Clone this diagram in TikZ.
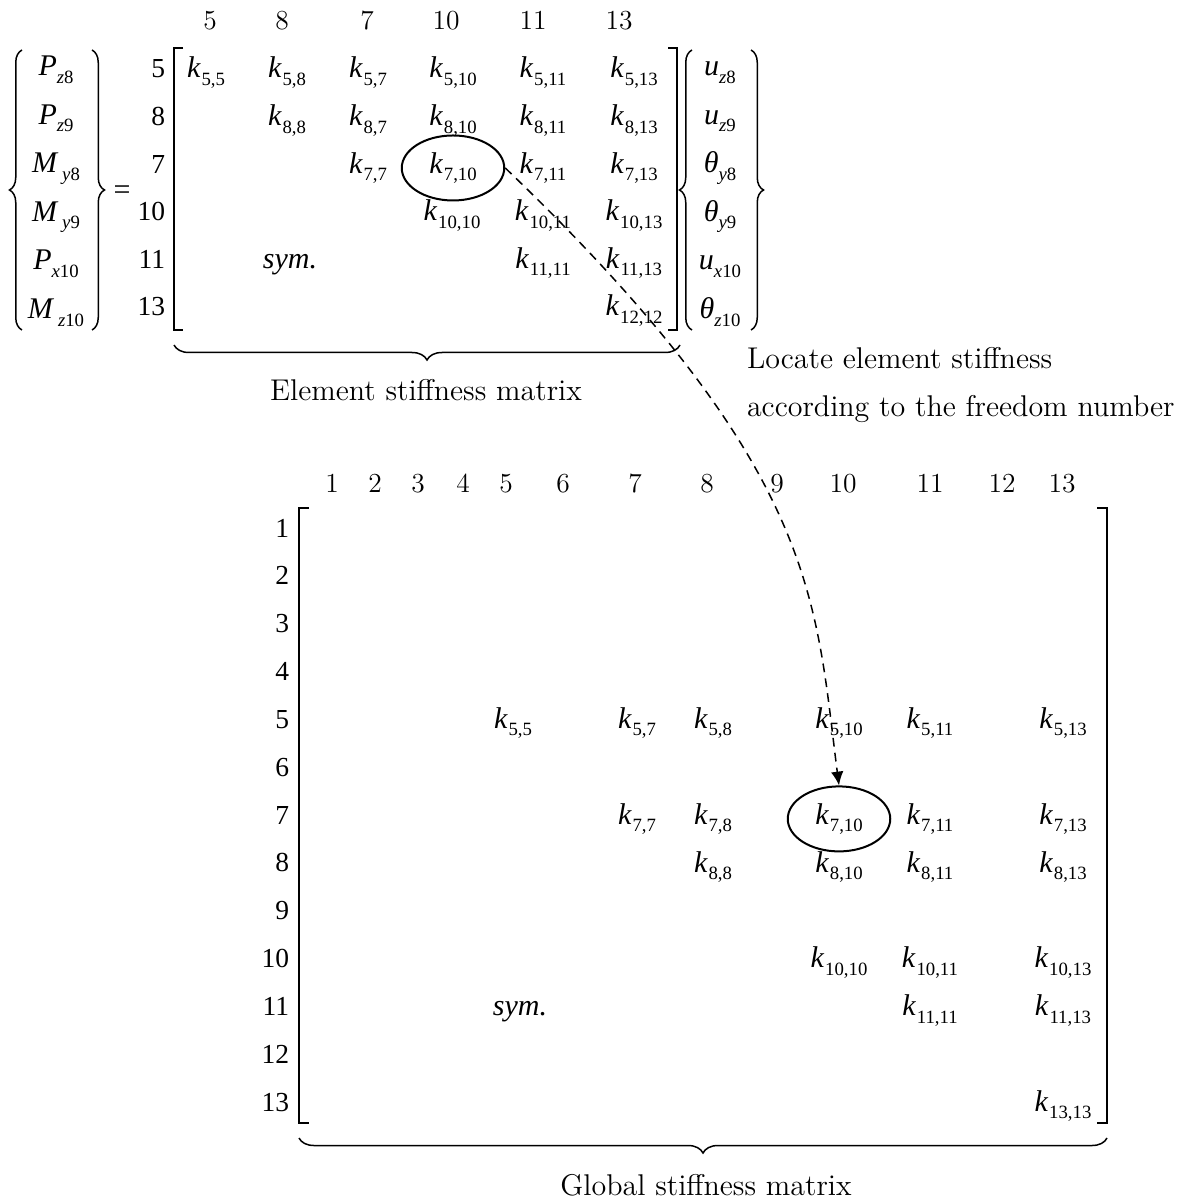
\documentclass[tikz,border=0pt]{standalone}
\usepackage{fontspec}
\usetikzlibrary{arrows.meta,shapes.geometric,decorations.pathreplacing}
\newfontfamily\tms{Liberation Serif}[ItalicFont={Liberation Serif Italic}, BoldFont={Liberation Serif Bold}]
\newcommand\kk[1]{{\tms\fontsize{12}{12}\selectfont\itshape k}\kern0.5pt\raisebox{-3pt}{\tms\fontsize{7.5}{8}\selectfont #1}}
\newcommand\vv[2]{{\tms\fontsize{12}{12}\selectfont\itshape #1}\raisebox{-3pt}{\tms\fontsize{7.5}{8}\selectfont #2}}
\tikzset{
  ent/.style={anchor=base, inner sep=0pt},
  rowno/.style={anchor=base east, inner sep=0pt, font=\tms\fontsize{11}{12}\selectfont},
  colno/.style={anchor=base, inner sep=0pt, font=\fontsize{11}{12}\selectfont},
  caption/.style={inner sep=0pt, font=\fontsize{12}{14}\selectfont},
  circled/.style={ellipse, draw, line width=0.8pt, minimum width=41pt, minimum height=26pt, inner sep=0pt, anchor=base},
  curly/.style={decorate, decoration={brace, amplitude=#1}, line width=0.6pt},
  curly/.default=5pt,
  link/.style={dash pattern=on 3.5pt off 2.5pt, line width=0.6pt, -{Latex[length=5.5pt,width=5pt]}},
}
\begin{document}
\begin{tikzpicture}[x=0.4pt, y=-0.4pt, line width=0.8pt]
    \useasboundingbox (0,0) rectangle (1184,1204);
    \foreach \n/\x in {5/210,8/282,7/367,10/446,11/533,13/619}
        \node[colno] (ec\n) at (\x,30) {\n};
    \foreach \n/\y in {5/78,8/125.6,7/173.2,10/220.8,11/268.4,13/316}
        \node[rowno] (er\n) at (166,\y) {\n};
    \draw[curly] (22,330) -- (22,50);
    \draw[curly] (92,50) -- (92,330);
    \node[ent] (pz8) at (56,76) {\vv{P}{\textit{z}8}};
    \node[ent] (pz9) at (56,124.5) {\vv{P}{\textit{z}9}};
    \node[ent] (my8) at (56,173) {\vv{M}{\;\textit{y}8}};
    \node[ent] (my9) at (56,221.5) {\vv{M}{\;\textit{y}9}};
    \node[ent] (px10) at (56,270) {\vv{P}{\textit{x}10}};
    \node[ent] (mz10) at (56,318.5) {\vv{M}{\;\textit{z}10}};
    \node[ent, font=\tms\fontsize{12}{12}\selectfont] (eq) at (122,200) {=};
    \draw (183,48) -- (174,48) -- (174,330) -- (183,330);
    \draw (668,48) -- (677,48) -- (677,330) -- (668,330);
    \foreach \c/\x in {5/206,8/287,7/368,10/453,11/543,13/634}
        \node[ent] (e5-\c) at (\x,78) {\kk{5,\c}};
    \foreach \c/\x in {8/287,7/368,10/453,11/543,13/634}
        \node[ent] (e8-\c) at (\x,125.6) {\kk{8,\c}};
    \foreach \c/\x in {7/368,11/543,13/634}
        \node[ent] (e7-\c) at (\x,173.2) {\kk{7,\c}};
    \node[circled] (e710) at (453,173.2) {\kk{7,10}};
    \foreach \c/\x in {10/452,11/543,13/634}
        \node[ent] (e10-\c) at (\x,220.8) {\kk{10,\c}};
    \node[ent] (esym) at (290,268.4) {\tms\fontsize{12}{12}\selectfont\itshape sym.};
    \foreach \c/\x in {11/543,13/634}
        \node[ent] (e11-\c) at (\x,268.4) {\kk{11,\c}};
    \node[ent] (e12-12) at (634,316) {\kk{12,12}};
    \draw[curly] (692,330) -- (692,50);
    \draw[curly] (751,50) -- (751,330);
    \node[ent] (uz8) at (720,76) {\vv{u}{\textit{z}8}};
    \node[ent] (uz9) at (720,124.5) {\vv{u}{\textit{z}9}};
    \node[ent] (ty8) at (720,173) {\vv{θ}{\textit{y}8}};
    \node[ent] (ty9) at (720,221.5) {\vv{θ}{\textit{y}9}};
    \node[ent] (ux10) at (720,270) {\vv{u}{\textit{x}10}};
    \node[ent] (tz10) at (720,318.5) {\vv{θ}{\textit{z}10}};
    \draw[curly=6pt] (680,345) -- (174,345);
    \node[caption, anchor=base] (ecap) at (426,400) {Element stiffness matrix};
    \node[caption, anchor=base west] (note1) at (746,369) {Locate element stiffness};
    \node[caption, anchor=base west] (note2) at (746,417) {according to the freedom number};
    \foreach \n/\x in {1/332,2/375,3/418,4/463,5/506,6/563,7/635,8/707,9/777,10/843,11/930,12/1002,13/1062}
        \node[colno] (gc\n) at (\x,492) {\n};
    \foreach \n in {1,...,13}
        \node[rowno] (gr\n) at (290,{537+47.85*(\n-1)}) {\n};
    \draw (309,508) -- (299,508) -- (299,1123) -- (309,1123);
    \draw (1097,508) -- (1107,508) -- (1107,1123) -- (1097,1123);
    \foreach \c/\x in {5/513,7/637,8/713,10/839,11/930,13/1063}
        \node[ent] (g5-\c) at (\x,728.4) {\kk{5,\c}};
    \foreach \c/\x in {7/637,8/713,11/930,13/1063}
        \node[ent] (g7-\c) at (\x,824.1) {\kk{7,\c}};
    \node[circled] (g710) at (839,824.1) {\kk{7,10}};
    \foreach \c/\x in {8/713,10/839,11/930,13/1063}
        \node[ent] (g8-\c) at (\x,872) {\kk{8,\c}};
    \foreach \c/\x in {10/839,11/930,13/1063}
        \node[ent] (g10-\c) at (\x,967.7) {\kk{10,\c}};
    \node[ent] (gsym) at (520,1015.5) {\tms\fontsize{12}{12}\selectfont\itshape sym.};
    \foreach \c/\x in {11/930,13/1063}
        \node[ent] (g11-\c) at (\x,1015.5) {\kk{11,\c}};
    \node[ent] (g13-13) at (1063,1111.2) {\kk{13,13}};
    \draw[curly=6pt] (1107,1138) -- (299,1138);
    \node[caption, anchor=base] (gcap) at (706,1195) {Global stiffness matrix};
    \draw[link] (e710.east) .. controls (820,470) and (815,600) .. (g710.north);
\end{tikzpicture}
\end{document}
